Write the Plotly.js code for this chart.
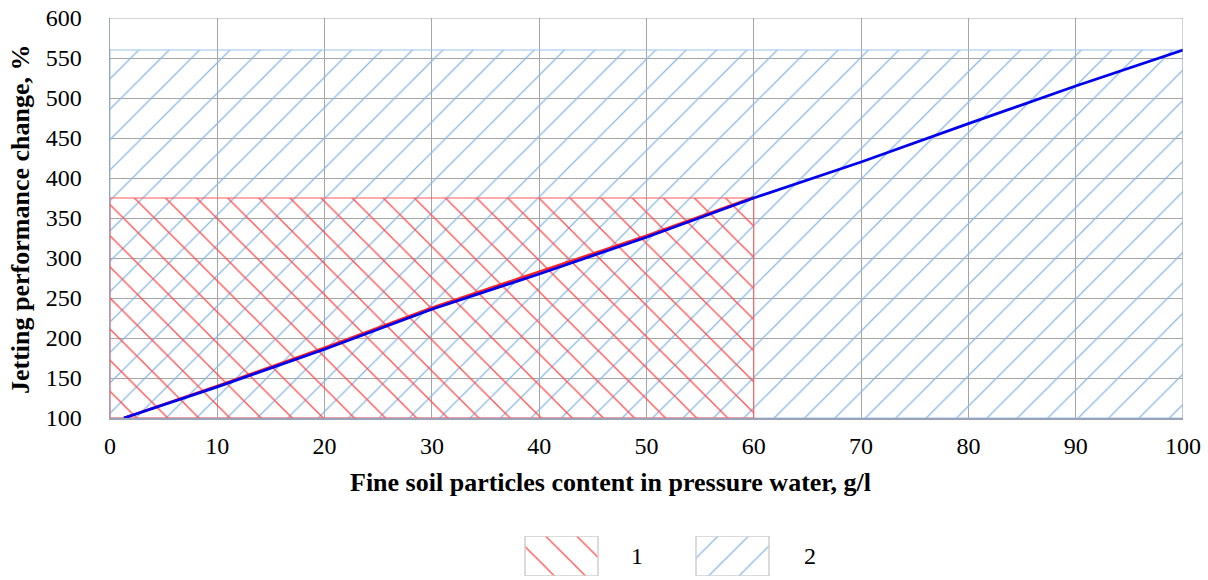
<!DOCTYPE html>
<html>
<head>
<meta charset="utf-8">
<script src="https://cdn.plot.ly/plotly-3.0.1.min.js"></script>
<style>html,body{margin:0;padding:0;background:#fff;}#chart{width:1208px;height:580px;}</style>
</head>
<body>
<div id="chart"></div>
<script>
// Blue curve: jetting performance change vs fine particles content
const curveX = [1.3, 10, 20, 30, 40, 50, 60, 70, 80, 90, 100];
const curveY = [100, 139, 186, 236, 280, 326, 375, 420, 468, 515, 560];
// Red curve (zone 1 boundary), slightly above blue
const redX = [1.3, 10, 20, 30, 40, 50, 60];
const redY = [100, 140, 188, 238, 283, 328, 376];
// Zone 1 (red hatch) extent
const zone1X = [0, 60];
const zone1Y = [100, 375];
// Zone 2 (blue hatch) extent
const zone2X = [0, 100];
const zone2Y = [100, 560];
const legendNames = ['1', '2'];
const xTitle = 'Fine soil particles content in pressure water, g/l';
const yTitle = 'Jetting performance change, %';

// ---- layout constants (not data) ----
const W = 1208, H = 580;
const ML = 110, MR = 25, MT = 18;
const plotBottomPx = 418;
const fullH = H - MT;             // plot area height with zero bottom margin
const mainDomainY = [(H - plotBottomPx) / fullH, 1];
const swTop = 536, swBot = 576;
const legDomainY = [(H - swBot) / fullH, (H - swTop) / fullH];
const sw1 = [525, 598], sw2 = [696, 769];
const lab1 = 637, lab2 = 810;
const pw = W - ML - MR;
const px2paperX = p => (p - ML) / pw;
const px2paperY = p => (H - p) / fullH;

function rect(xs, ys) {
  return {
    x: [xs[0], xs[1], xs[1], xs[0], xs[0]],
    y: [ys[0], ys[0], ys[1], ys[1], ys[0]]
  };
}
const r1 = rect(zone1X, zone1Y);
const r2 = rect(zone2X, zone2Y);
const s1 = rect(sw1, [0, 1]);
const s2 = rect(sw2, [0, 1]);

const blueHatch = {shape: '/', fgcolor: '#8cb9e6', bgcolor: 'rgba(0,0,0,0)', size: 21.5, solidity: 0.06};
const redHatch = {shape: '\\', fgcolor: '#ff4d4d', bgcolor: 'rgba(0,0,0,0)', size: 22, solidity: 0.06};

const traces = [
  {
    x: r2.x, y: r2.y, type: 'scatter', mode: 'lines', fill: 'toself',
    name: legendNames[1], showlegend: false,
    line: {color: '#9cc3e8', width: 1},
    fillcolor: 'rgba(0,0,0,0)', fillpattern: blueHatch, hoverinfo: 'skip'
  },
  {
    x: r1.x, y: r1.y, type: 'scatter', mode: 'lines', fill: 'toself',
    name: legendNames[0], showlegend: false,
    line: {color: '#ff5a5a', width: 1},
    fillcolor: 'rgba(0,0,0,0)', fillpattern: redHatch, hoverinfo: 'skip'
  },
  {
    x: redX, y: redY, type: 'scatter', mode: 'lines', showlegend: false,
    line: {color: '#ff2020', width: 2.5}
  },
  {
    x: curveX, y: curveY, type: 'scatter', mode: 'lines', showlegend: false,
    line: {color: '#0000ee', width: 2.8}
  },
  // legend swatches
  {
    x: s1.x, y: s1.y, xaxis: 'x2', yaxis: 'y2', type: 'scatter', mode: 'lines', fill: 'toself',
    showlegend: false, line: {color: '#cfcfcf', width: 1.5},
    fillcolor: 'rgba(0,0,0,0)', fillpattern: redHatch, hoverinfo: 'skip'
  },
  {
    x: s2.x, y: s2.y, xaxis: 'x2', yaxis: 'y2', type: 'scatter', mode: 'lines', fill: 'toself',
    showlegend: false, line: {color: '#cfcfcf', width: 1.5},
    fillcolor: 'rgba(0,0,0,0)', fillpattern: blueHatch, hoverinfo: 'skip'
  }
];

const fontFam = '"Liberation Serif", "Times New Roman", serif';
const layout = {
  width: W, height: H,
  margin: {l: ML, r: MR, t: MT, b: 0},
  paper_bgcolor: '#fff', plot_bgcolor: 'rgba(0,0,0,0)',
  font: {family: fontFam, size: 24, color: '#000'},
  showlegend: false,
  xaxis: {
    range: [0, 100], dtick: 10, tick0: 0, anchor: 'y',
    showgrid: true, gridcolor: '#a6a6a6', gridwidth: 1,
    zeroline: false, showline: true, linecolor: '#9aa3b8', linewidth: 1.5,
    ticks: '', ticklabelstandoff: 6, tickfont: {family: fontFam, size: 24}
  },
  yaxis: {
    domain: mainDomainY, anchor: 'x',
    range: [100, 600], dtick: 50, tick0: 100,
    showgrid: true, gridcolor: '#a6a6a6', gridwidth: 1,
    zeroline: false, showline: true, linecolor: '#9aa3b8', linewidth: 1.5,
    ticks: '', ticklabelstandoff: 22, tickfont: {family: fontFam, size: 24}
  },
  xaxis2: {
    domain: [0, 1], range: [ML, W - MR], anchor: 'y2',
    visible: false, showgrid: false, zeroline: false, fixedrange: true
  },
  yaxis2: {
    domain: legDomainY, range: [0, 1], anchor: 'x2',
    visible: false, showgrid: false, zeroline: false, fixedrange: true
  },
  annotations: [
    {xref: 'paper', yref: 'paper', x: px2paperX(610), y: px2paperY(482), text: '<b>' + xTitle + '</b>',
     showarrow: false, font: {family: fontFam, size: 26, color: '#000'}, xanchor: 'center', yanchor: 'middle'},
    {xref: 'paper', yref: 'paper', x: px2paperX(21), y: px2paperY(220), text: '<b>' + yTitle + '</b>',
     textangle: -90, showarrow: false, font: {family: fontFam, size: 26, color: '#000'}, xanchor: 'center', yanchor: 'middle'},
    {xref: 'x2', yref: 'y2', x: lab1, y: 0.5, text: legendNames[0], showarrow: false,
     font: {family: fontFam, size: 24, color: '#000'}, xanchor: 'center', yanchor: 'middle'},
    {xref: 'x2', yref: 'y2', x: lab2, y: 0.5, text: legendNames[1], showarrow: false,
     font: {family: fontFam, size: 24, color: '#000'}, xanchor: 'center', yanchor: 'middle'}
  ],
  shapes: [
    {type: 'line', xref: 'x', yref: 'y', x0: 0, x1: 100, y0: 600, y1: 600, line: {color: '#a6a6a6', width: 1}},
    {type: 'line', xref: 'x', yref: 'y', x0: 100, x1: 100, y0: 100, y1: 600, line: {color: '#a6a6a6', width: 1}}
  ]
};

Plotly.newPlot('chart', traces, layout, {displayModeBar: false, staticPlot: true});
</script>
</body>
</html>
